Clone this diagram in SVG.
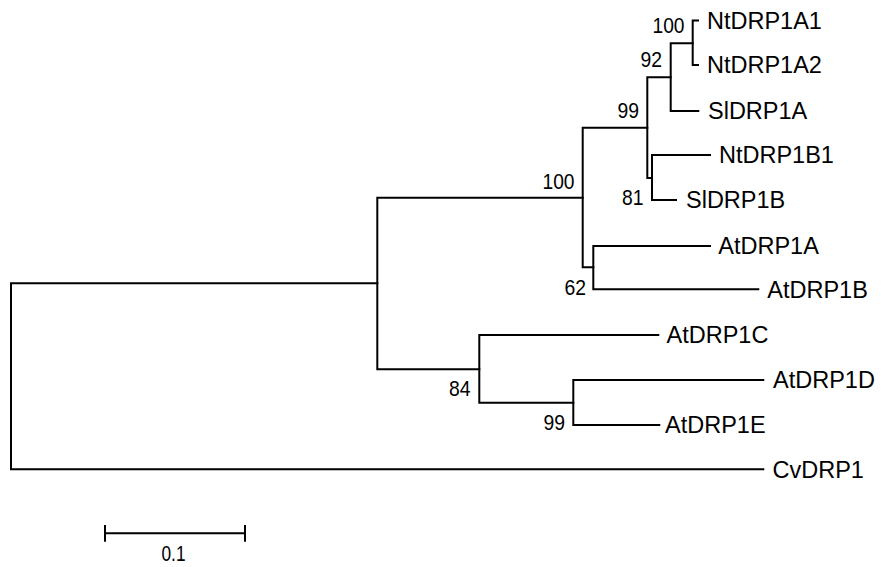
<svg xmlns="http://www.w3.org/2000/svg" width="881" height="567" viewBox="0 0 881 567">
<style>
.br{fill:none;stroke:#000;stroke-width:2;stroke-linecap:square;stroke-linejoin:miter}
.leaf{font-family:"Liberation Sans",Arial,sans-serif;font-size:23.5px;fill:#000}
.bs{font-family:"Liberation Sans",Arial,sans-serif;font-size:22.5px;fill:#000;text-anchor:end}
.sc{font-family:"Liberation Sans",Arial,sans-serif;font-size:22px;fill:#000;text-anchor:middle}
</style>
<rect width="881" height="567" fill="#fff"/>
<g id="connectors">
<path class="br" d="M377.3 283.3 H11 V469.3 H763.3"/>
<path class="br" d="M582.7 197.7 H377.3 V369.3 H479.3"/>
<path class="br" d="M647.3 127.7 H582.7 V267.3 H593.3"/>
<path class="br" d="M670.7 77.3 H647.3 V178 H652"/>
<path class="br" d="M692.7 43.3 H670.7 V111 H698.3"/>
<path class="br" d="M698 20.5 H692.7 V65 H698"/>
<path class="br" d="M710 155 H652 V200 H676"/>
<path class="br" d="M710 246 H593.3 V289.3 H758.3"/>
<path class="br" d="M658.3 335 H479.3 V402.7 H573.3"/>
<path class="br" d="M763.3 380 H573.3 V425 H659.3"/>
</g>
<g id="NtDRP1A1"><text class="leaf" x="707" y="28.8">NtDRP1A1</text></g>
<g id="NtDRP1A2"><text class="leaf" x="707" y="73.3">NtDRP1A2</text></g>
<g id="SlDRP1A"><text class="leaf" x="708" y="119.3">SlDRP1A</text></g>
<g id="NtDRP1B1"><text class="leaf" x="719" y="163.3">NtDRP1B1</text></g>
<g id="SlDRP1B"><text class="leaf" x="686" y="208.3">SlDRP1B</text></g>
<g id="AtDRP1A"><text class="leaf" x="718.3" y="254.3">AtDRP1A</text></g>
<g id="AtDRP1B"><text class="leaf" x="767.3" y="297.6">AtDRP1B</text></g>
<g id="AtDRP1C"><text class="leaf" x="666.5" y="343.3">AtDRP1C</text></g>
<g id="AtDRP1D"><text class="leaf" x="773" y="388.3">AtDRP1D</text></g>
<g id="AtDRP1E"><text class="leaf" x="665" y="433.3">AtDRP1E</text></g>
<g id="CvDRP1"><text class="leaf" x="772.5" y="477.6">CvDRP1</text></g>
<g id="bootstrap">
<text class="bs" x="684.5" y="33" textLength="32" lengthAdjust="spacingAndGlyphs">100</text>
<text class="bs" x="662" y="67" textLength="21.5" lengthAdjust="spacingAndGlyphs">92</text>
<text class="bs" x="639" y="117.5" textLength="21.5" lengthAdjust="spacingAndGlyphs">99</text>
<text class="bs" x="574.5" y="188.5" textLength="32" lengthAdjust="spacingAndGlyphs">100</text>
<text class="bs" x="643.5" y="205" textLength="21.5" lengthAdjust="spacingAndGlyphs">81</text>
<text class="bs" x="586" y="295" textLength="21.5" lengthAdjust="spacingAndGlyphs">62</text>
<text class="bs" x="470.5" y="396" textLength="21.5" lengthAdjust="spacingAndGlyphs">84</text>
<text class="bs" x="565" y="430" textLength="21.5" lengthAdjust="spacingAndGlyphs">99</text>
</g>
<g id="scalebar">
<path class="br" d="M105 533.3 H245 M105 525 V541.7 M245 525 V541.7" style="stroke-linecap:butt"/>
<text class="sc" x="173.5" y="561" textLength="24" lengthAdjust="spacingAndGlyphs">0.1</text>
</g>
</svg>
